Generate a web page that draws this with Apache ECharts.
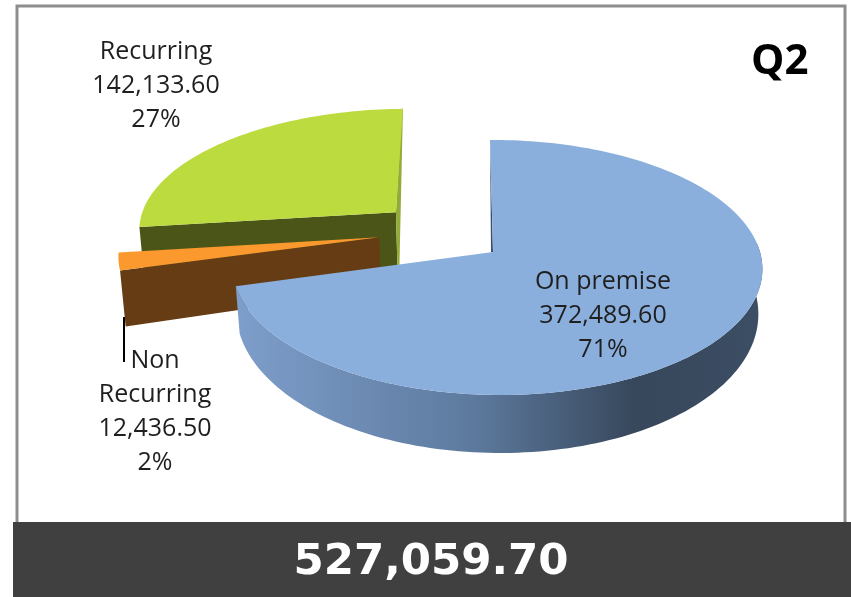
<!DOCTYPE html>
<html>
<head>
<meta charset="utf-8">
<style>
  html, body { margin: 0; padding: 0; background: #fff; }
  #chart { width: 851px; height: 597px; }
</style>
<script src="https://cdn.jsdelivr.net/npm/echarts@6/dist/echarts.min.js"></script>
</head>
<body>
<div id="chart"></div>
<script>
// data
const categories = ['On premise', 'Non Recurring', 'Recurring']
const values = [372489.6, 12436.5, 142133.6]
const percents = ['71%', '2%', '27%']
const titleText = 'Q2'

// pie plane -> screen, fitted by eye to the tilted pie
const CX = 493, CY = 252, RX = 263, RY = 125.6, P = 0.1215, Q = -0.015, SHEAR = 3

const sliceStyles = [
  { offset: [0, 0], stretch: 1, depth: 43, top: '#8aafdd', side: '#37475c', edge: '#3a4f6c', z: 30 },
  { offset: [-0.44, 0.12], stretch: 1.022, depth: 52, top: '#fb982e', side: '#653c13', edge: '#653c13', z: 20 },
  { offset: [-0.382, 0.331], stretch: 1.03, depth: 55, top: '#bbdb3f', side: '#4c5518', edge: '#93ab38', z: 10 },
]
const labelStyles = [
  { x: 603, y: 316, lines: name => [name] },
  { x: 155, y: 412, lines: name => name.split(' ') },
  { x: 156, y: 86, lines: name => [name] },
]
const LABEL_FONT = '25px "Open Sans"'
const LINE_HEIGHT = 34

const total = values.reduce((a, b) => a + b, 0)
const fmt = v => v.toLocaleString('en-US', { minimumFractionDigits: 2, maximumFractionDigits: 2 })

function project(u, v) {
  const w = 1 + P * v + Q * u
  return [CX + RX * u / w - SHEAR * v, CY - RY * v / w]
}

function rimPoint(style, theta) {
  const u = Math.sin(theta) * style.stretch, v = Math.cos(theta)
  return { p: project(style.offset[0] + u, style.offset[1] + v), v }
}

function drop(pt, v, style) {
  return [pt[0] + (CX - pt[0]) * 0.015, pt[1] + style.depth - 15 * v]
}

function sideFill(index) {
  if (index !== 0) return sliceStyles[index].side
  return new echarts.graphic.LinearGradient(0, 0, 1, 0, [
    { offset: 0, color: '#7e9ecb' },
    { offset: 0.45, color: '#5d7a9e' },
    { offset: 0.76, color: '#37475c' },
    { offset: 1, color: '#3c4e64' },
  ])
}

function renderSlice(params) {
  const i = params.dataIndex
  const style = sliceStyles[i]
  let before = 0
  for (let k = 0; k < i; k++) before += values[k]
  const start = before / total * Math.PI * 2
  const end = (before + values[i]) / total * Math.PI * 2

  const apex = project(style.offset[0], style.offset[1])
  const arc = []
  const steps = Math.max(6, Math.round((end - start) * 40))
  for (let s = 0; s <= steps; s++) arc.push(rimPoint(style, start + (end - start) * s / steps))
  const topPts = [apex].concat(arc.map(a => a.p))
  const children = []

  if (i === 0) {
    // outer wall, only the front of the arc shows
    const front = arc.filter(a => a.v < 0.08)
    const wall = front.map(a => a.p).concat(front.slice().reverse().map(a => drop(a.p, a.v, style)))
    children.push({ type: 'polygon', z2: style.z, shape: { points: wall }, style: { fill: sideFill(0) } })
    children.push({ type: 'polygon', z2: style.z, shape: { points: [arc[0].p, apex, [apex[0] - 2, apex[1]]] }, style: { fill: style.edge } })
  } else {
    // flat cut face towards the viewer
    const cut = arc[0]
    children.push({
      type: 'polygon', z2: style.z,
      shape: { points: [apex, cut.p, drop(cut.p, cut.v, style), drop(apex, 0, style)] },
      style: { fill: style.side },
    })
    if (i === 2) {
      const back = arc[arc.length - 1].p
      const low = drop(apex, 0, style)
      children.push({
        type: 'polygon', z2: style.z,
        shape: { points: [back, [low[0] + 2, low[1]], low, apex, [back[0] - 1, back[1]]] },
        style: { fill: style.edge },
      })
    }
  }
  children.push({ type: 'polygon', z2: style.z + 1, shape: { points: topPts }, style: { fill: style.top } })

  const lab = labelStyles[i]
  const lines = lab.lines(categories[i]).concat([fmt(values[i]), percents[i]])
  children.push({
    type: 'text', z2: 50,
    style: {
      text: lines.join('\n'), x: lab.x, y: lab.y, font: LABEL_FONT, fill: '#1f1f1f',
      align: 'center', verticalAlign: 'middle', lineHeight: LINE_HEIGHT,
    },
  })
  return { type: 'group', children }
}

const chart = echarts.init(document.getElementById('chart'))
chart.setOption({
  animation: false,
  backgroundColor: '#fff',
  title: {
    text: titleText, left: 746, top: 36,
    textStyle: { fontFamily: 'Open Sans', fontWeight: 'bold', fontSize: 42, color: '#000' },
  },
  graphic: [
    { type: 'rect', z: -1, shape: { x: 17, y: 6, width: 828, height: 530 }, style: { fill: 'none', stroke: '#8e8e8e', lineWidth: 3 } },
    { type: 'line', z: 5, shape: { x1: 124, y1: 317, x2: 124, y2: 362 }, style: { stroke: '#000', lineWidth: 2 } },
    { type: 'rect', z: 6, shape: { x: 13, y: 522, width: 838, height: 75 }, style: { fill: '#404040' } },
    {
      type: 'text', z: 7,
      style: {
        text: fmt(total), x: 431, y: 563, font: 'bold 43.5px "DejaVu Sans"', fill: '#fff',
        align: 'center', verticalAlign: 'middle',
      },
    },
  ],
  series: [{
    type: 'custom',
    coordinateSystem: 'none',
    silent: true,
    renderItem: renderSlice,
    data: values,
  }],
})
</script>
</body>
</html>
